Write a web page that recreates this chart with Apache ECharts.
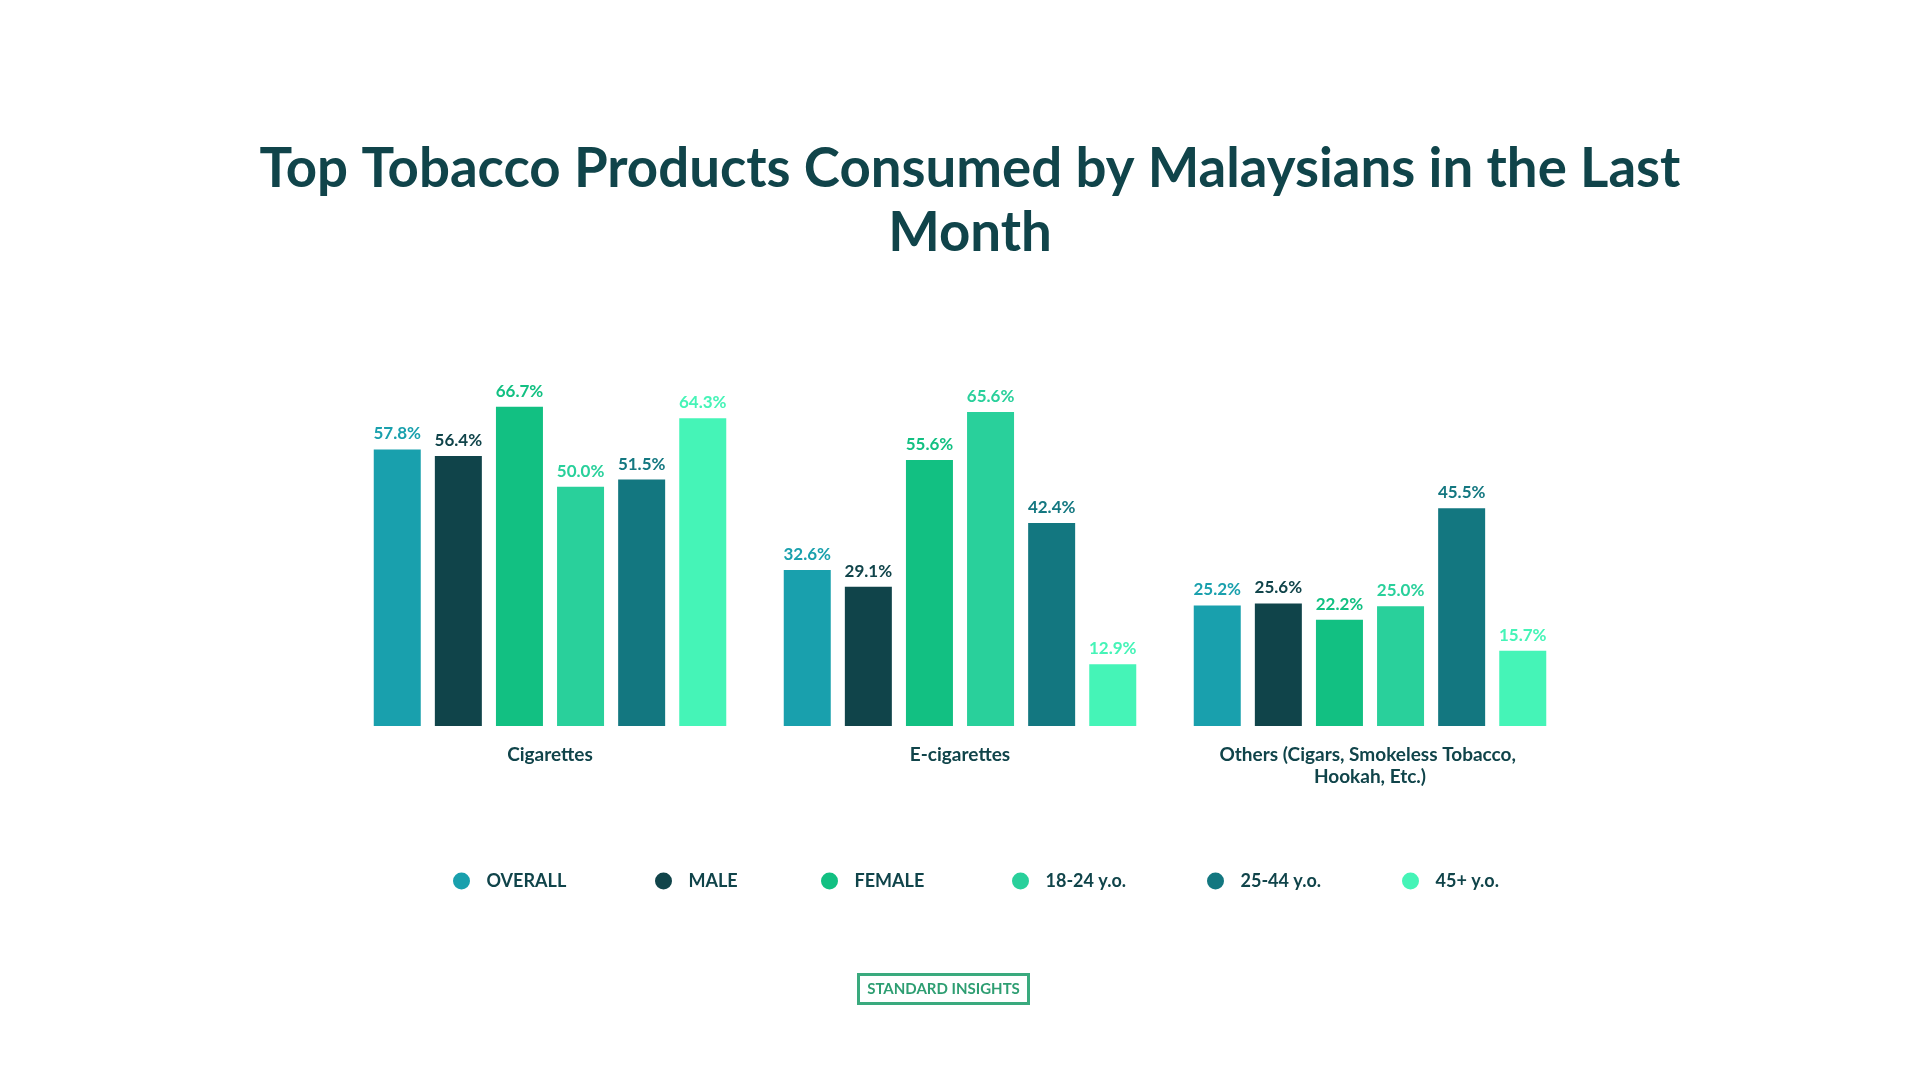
<!DOCTYPE html>
<html>
<head>
<meta charset="utf-8">
<script src="https://cdn.jsdelivr.net/npm/echarts@6/dist/echarts.min.js"></script>
<style>html,body{margin:0;padding:0;background:#fff}#c{width:1920px;height:1080px}</style>
</head>
<body>
<div id="c"></div>
<script>
var categories = ['Cigarettes', 'E-cigarettes', 'Others (Cigars, Smokeless Tobacco, Hookah, Etc.)'];
var seriesNames = ['OVERALL', 'MALE', 'FEMALE', '18-24 y.o.', '25-44 y.o.', '45+ y.o.'];
var overall = [57.8, 32.6, 25.2];
var male = [56.4, 29.1, 25.6];
var female = [66.7, 55.6, 22.2];
var age18to24 = [50.0, 65.6, 25.0];
var age25to44 = [51.5, 42.4, 45.5];
var age45plus = [64.3, 12.9, 15.7];
var seriesValues = [overall, male, female, age18to24, age25to44, age45plus];

var colors = ['#19a0ad', '#10444a', '#12c082', '#29d09b', '#137780', '#45f4b7'];
var dark = '#10444a';
var font = 'Lato';
var legendLefts = [448, 650, 816, 1007, 1202, 1397];

var series = seriesNames.map(function (name, i) {
  return {
    name: name,
    type: 'bar',
    data: seriesValues[i],
    barWidth: 47,
    barGap: '30%',
    itemStyle: { color: colors[i] },
    label: {
      show: true,
      position: 'top',
      distance: 7,
      formatter: function (p) { return p.value.toFixed(1) + '%'; },
      color: colors[i],
      fontFamily: font,
      fontWeight: 'bold',
      fontSize: 17
    }
  };
});

var legends = seriesNames.map(function (name, i) {
  return {
    data: [name],
    left: legendLefts[i],
    top: 867,
    icon: 'circle',
    itemWidth: 40,
    itemHeight: 17,
    selectedMode: false,
    textStyle: { color: dark, fontFamily: font, fontWeight: 'bold', fontSize: 18 }
  };
});

var chart = echarts.init(document.getElementById('c'));
chart.setOption({
  backgroundColor: '#ffffff',
  animation: false,
  title: {
    text: 'Top Tobacco Products Consumed by Malaysians in the Last\nMonth',
    left: 970,
    top: 137,
    padding: 0,
    textAlign: 'center',
    textStyle: {
      color: dark,
      fontFamily: font,
      fontWeight: 'bold',
      fontSize: 54.6,
      lineHeight: 64
    }
  },
  legend: legends,
  grid: { left: 345, right: 345, top: 391, bottom: 354 },
  xAxis: {
    type: 'category',
    data: categories,
    axisLine: { show: false },
    axisTick: { show: false },
    axisLabel: {
      interval: 0,
      margin: 18,
      color: dark,
      fontFamily: font,
      fontWeight: 'bold',
      fontSize: 19,
      lineHeight: 22,
      width: 320,
      overflow: 'break'
    }
  },
  yAxis: {
    type: 'value',
    min: 0,
    max: 70,
    show: false,
    splitLine: { show: false }
  },
  series: series,
  graphic: [{
    type: 'group',
    left: 857,
    top: 973,
    children: [{
      type: 'rect',
      shape: { x: 0, y: 0, width: 170, height: 29 },
      style: { fill: '#ffffff', stroke: '#3aaa7e', lineWidth: 3 }
    }, {
      type: 'text',
      x: 85,
      y: 15,
      style: {
        text: 'STANDARD INSIGHTS',
        fill: '#2e9e72',
        font: 'bold 15px Lato',
        align: 'center',
        verticalAlign: 'middle'
      }
    }]
  }]
});
</script>
</body>
</html>
